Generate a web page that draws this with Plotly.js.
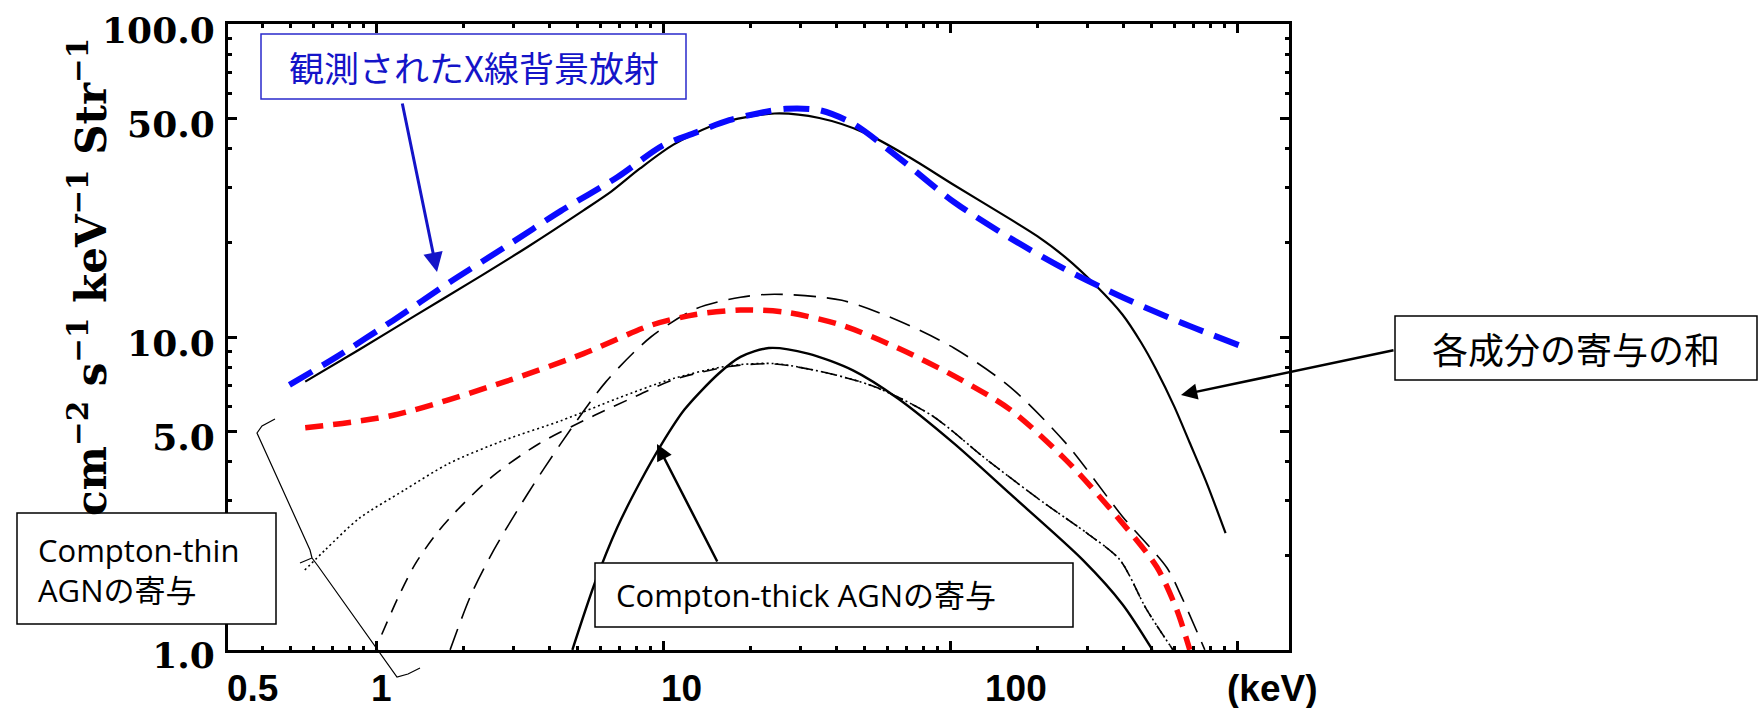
<!DOCTYPE html>
<html>
<head>
<meta charset="utf-8">
<script src="https://cdn.plot.ly/plotly-3.0.1.min.js"></script>
<style>
  html, body { margin: 0; padding: 0; background: #ffffff; }
  #chart { width: 1760px; height: 708px; }
</style>
</head>
<body>
<div id="chart"></div>
<script>
// ---------------- data ----------------
// Observed cosmic X-ray background (blue dashed)
const energyObserved = [0.496, 0.724, 1.14, 1.78, 2.80, 4.38, 6.88, 9.86, 12.9, 16.9, 22.2, 26.6, 34.8, 45.6, 65.4, 102.5, 161, 252, 396, 621, 1019];
const fluxObserved   = [7.03, 8.64, 11.3, 14.9, 19.4, 25.3, 32.4, 40.8, 45.0, 49.3, 52.3, 53.6, 53.1, 48.1, 37.6, 27.0, 20.7, 16.4, 13.4, 11.2, 9.38];

// Sum of all components (black solid)
const energySum = [0.563, 0.867, 1.36, 2.13, 3.35, 5.25, 6.57, 8.24, 10.8, 15.5, 24.3, 34.8, 49.9, 71.5, 102.5, 161, 200, 252, 320, 396, 460, 518, 600, 679, 780, 906];
const fluxSum   = [7.20, 9.10, 11.7, 15.0, 19.4, 25.4, 29.2, 34.5, 41.2, 48.1, 51.8, 50.1, 45.0, 37.6, 30.6, 23.8, 21.0, 17.9, 14.6, 11.8, 9.6, 7.9, 6.0, 4.6, 3.4, 2.36];

// Compton-thin AGN total (red dashed)
const energyThinTotal = [0.563, 1.14, 2.80, 5.25, 9.01, 12.9, 18.5, 26.6, 41.7, 65.4, 102.5, 161, 252, 362, 522, 613, 680];
const fluxThinTotal   = [5.13, 5.62, 7.20, 8.85, 10.9, 11.8, 12.2, 12.0, 10.9, 9.22, 7.51, 5.86, 4.04, 2.80, 1.84, 1.34, 1.00];

// Thin dashed component peaking near 13
const energyDashA = [1.80, 2.13, 2.56, 3.35, 4.38, 6.29, 9.01, 12.9, 18.5, 24.3, 41.7, 65.4, 102.5, 161, 252, 396, 566, 636, 767];
const fluxDashA   = [1.00, 1.50, 2.09, 3.15, 4.57, 7.20, 10.0, 12.3, 13.4, 13.7, 13.1, 11.3, 9.22, 6.92, 4.57, 2.67, 1.83, 1.48, 1.00];

// Short dashed component (joins the dotted one above ~8 keV)
const energyDashB = [1.04, 1.19, 1.36, 1.63, 1.95, 2.56, 3.66, 5.74, 8.24, 10.8, 16.9, 24.3, 38.1, 54.6, 85.6, 134, 211, 300, 388, 480, 594];
const fluxDashB   = [1.12, 1.48, 1.88, 2.38, 2.86, 3.62, 4.55, 5.62, 6.55, 7.30, 8.05, 8.20, 7.63, 6.92, 5.62, 4.04, 2.95, 2.35, 1.94, 1.35, 1.00];

// Dotted component
const energyDotted = [0.561, 0.662, 0.867, 1.24, 1.78, 2.80, 4.38, 6.88, 10.8, 16.9, 24.3, 38.1, 54.6, 85.6, 134, 211, 300, 388, 480, 594];
const fluxDotted   = [1.80, 2.09, 2.63, 3.23, 3.94, 4.69, 5.40, 6.36, 7.37, 8.09, 8.22, 7.63, 6.92, 5.62, 4.04, 2.95, 2.35, 1.94, 1.35, 1.00];

// Compton-thick AGN (black solid)
const energyThick = [4.80, 5.74, 6.88, 8.24, 9.86, 11.8, 15.5, 18.5, 23.2, 31.8, 45.6, 65.4, 102.5, 161, 288, 396, 504];
const fluxThick   = [1.00, 1.63, 2.46, 3.42, 4.57, 5.86, 7.63, 8.64, 9.22, 8.85, 7.82, 6.36, 4.57, 3.15, 1.94, 1.40, 1.00];

// Axis tick values and labels
const yTickVals  = [1, 5, 10, 50, 100];
const yTickText  = ['1.0', '5.0', '10.0', '50.0', '100.0'];
const yMinorVals = [2, 3, 4, 6, 7, 8, 9, 20, 30, 40, 60, 70, 80, 90];
const xTickVals  = [1, 10, 100, 1000];
const xMinorVals = [0.4, 0.5, 0.6, 0.7, 0.8, 0.9, 2, 3, 4, 5, 6, 7, 8, 9, 20, 30, 40, 50, 60, 70, 80, 90, 200, 300, 400, 500, 600, 700, 800, 900];
const xLabelVals = [0.5, 1, 10, 100];
const xLabelText = ['0.5', '1', '10', '100'];
const xUnitText  = '(keV)';
const yTitleText = 'cm<sup>−2</sup> s<sup>−1</sup> keV<sup>−1</sup> Str<sup>−1</sup>';

const labelObserved = '観測されたX線背景放射';
const labelSum      = '各成分の寄与の和';
const labelThin     = 'Compton-thin<br>AGNの寄与';
const labelThick    = 'Compton-thick AGNの寄与';

// ---------------- layout helpers ----------------
const W = 1760, H = 708;
const M = { l: 228, r: 471, t: 24, b: 58 };
const PW = W - M.l - M.r, PH = H - M.t - M.b;
const px = x => (x - M.l) / PW;
const py = y => (H - M.b - y) / PH;

const serif = 'DejaVu Serif, serif';
const sansB = 'Liberation Sans, Arial, sans-serif';
const jp    = 'Open Sans, Noto Sans CJK JP, sans-serif';

function line(xs, ys, color, width, dash) {
  return { x: xs, y: ys, type: 'scatter', mode: 'lines', hoverinfo: 'skip',
           line: { color: color, width: width, dash: dash, shape: 'spline', smoothing: 0.8 } };
}

const traces = [
  line(energyDotted, fluxDotted, '#000000', 1.6, '2px,3px'),
  line(energyDashB, fluxDashB, '#000000', 1.6, '14px,10px'),
  line(energyDashA, fluxDashA, '#000000', 1.6, '22px,11px'),
  line(energyThick, fluxThick, '#000000', 2.4, 'solid'),
  line(energyThinTotal, fluxThinTotal, '#ff0a0a', 5.5, '18px,10px'),
  line(energySum, fluxSum, '#000000', 2.2, 'solid'),
  line(energyObserved, fluxObserved, '#0a0aff', 6, '26px,12px')
];

function box(x0, y0, x1, y1, color) {
  return { type: 'rect', xref: 'paper', yref: 'paper', x0: px(x0), x1: px(x1), y0: py(y1), y1: py(y0),
           line: { color: color, width: 1.5 }, fillcolor: '#ffffff', layer: 'above' };
}
function pathPx(pts) {
  return pts.map(p => p[0] + px(p[1]) + ',' + py(p[2])).join(' ');
}

const shapes = [
  box(261, 34, 686, 99, '#2a2acc'),
  box(1395, 316, 1757, 380, '#000000'),
  box(17, 513, 276, 624, '#000000'),
  box(595, 563, 1073, 627, '#000000'),
  { type: 'path', xref: 'paper', yref: 'paper', layer: 'above',
    path: pathPx([['M', 275, 419], ['L', 262, 426], ['L', 257, 433], ['L', 310, 550], ['L', 312, 558],
                  ['L', 300, 563], ['M', 312, 558], ['L', 318, 566], ['L', 397, 677], ['L', 408, 674], ['L', 420, 668]]),
    line: { color: '#000000', width: 1.2 } }
];

function arrow(tipX, tipY, tailX, tailY, color, width) {
  return { xref: 'paper', yref: 'paper', x: px(tipX), y: py(tipY), ax: tailX - tipX, ay: tailY - tipY,
           axref: 'pixel', ayref: 'pixel', text: '', showarrow: true, arrowhead: 2, arrowsize: 1.3,
           arrowwidth: width, arrowcolor: color, standoff: 0, startstandoff: 0 };
}

const annotations = [
  { xref: 'paper', yref: 'paper', x: px(473.5), y: py(66.5), xanchor: 'center', yanchor: 'middle',
    text: labelObserved, showarrow: false, font: { family: 'Noto Sans CJK JP, sans-serif', size: 35, color: '#1414c8' } },
  { xref: 'paper', yref: 'paper', x: px(1576), y: py(348), xanchor: 'center', yanchor: 'middle',
    text: labelSum, showarrow: false, font: { family: 'Noto Sans CJK JP, sans-serif', size: 36, color: '#000000' } },
  { xref: 'paper', yref: 'paper', x: px(36), y: py(570), xanchor: 'left', yanchor: 'middle', align: 'left',
    text: labelThin, showarrow: false, font: { family: jp, size: 31, color: '#000000' } },
  { xref: 'paper', yref: 'paper', x: px(614), y: py(595), xanchor: 'left', yanchor: 'middle',
    text: labelThick, showarrow: false, font: { family: jp, size: 31, color: '#000000' } },
  arrow(437, 272, 402, 102, '#1414c8', 3),
  arrow(1181, 395, 1395, 350, '#000000', 2.5),
  arrow(657, 444, 718, 563, '#000000', 2.5),
  { xref: 'paper', yref: 'paper', x: px(88), y: py(277), xanchor: 'center', yanchor: 'middle', textangle: -90,
    text: yTitleText, showarrow: false, font: { family: serif, size: 42, weight: 'bold', color: '#000000' } },
  { xref: 'paper', yref: 'paper', x: px(1272), y: py(688), xanchor: 'center', yanchor: 'middle',
    text: xUnitText, showarrow: false, font: { family: sansB, size: 37, weight: 'bold', color: '#000000' } }
];
const xLabelShift = [-38, 5, 18, 65];
xLabelVals.forEach((v, i) => {
  annotations.push({ xref: 'x', yref: 'paper', x: Math.log10(v), y: py(688), xshift: xLabelShift[i],
    xanchor: 'center', yanchor: 'middle', text: xLabelText[i], showarrow: false,
    font: { family: sansB, size: 37, weight: 'bold', color: '#000000' } });
});

const axisCommon = {
  type: 'log', showgrid: false, zeroline: false, showline: true, linecolor: '#000000', linewidth: 3,
  mirror: 'allticks', ticks: 'inside', ticklen: 9, tickwidth: 3, tickcolor: '#000000', tickmode: 'array'
};

const layout = {
  width: W, height: H,
  margin: M,
  paper_bgcolor: '#ffffff', plot_bgcolor: '#ffffff',
  showlegend: false,
  xaxis: Object.assign({}, axisCommon, {
    range: [Math.log10(0.303), Math.log10(1507)],
    tickvals: xTickVals, showticklabels: false,
    minor: { tickmode: 'array', tickvals: xMinorVals, ticks: 'inside', ticklen: 4, tickwidth: 3, tickcolor: '#000000' }
  }),
  yaxis: Object.assign({}, axisCommon, {
    range: [-0.0004, 2.0004],
    tickvals: yTickVals, ticktext: yTickText, ticklabelstandoff: 3, ticklabelshift: 6,
    ticklabeloverflow: 'allow',
    tickfont: { family: serif, size: 36, weight: 'bold', color: '#000000' },
    minor: { tickmode: 'array', tickvals: yMinorVals, ticks: 'inside', ticklen: 4, tickwidth: 3, tickcolor: '#000000' }
  }),
  shapes: shapes,
  annotations: annotations
};

Plotly.newPlot('chart', traces, layout, { displayModeBar: false, staticPlot: true });
</script>
</body>
</html>
